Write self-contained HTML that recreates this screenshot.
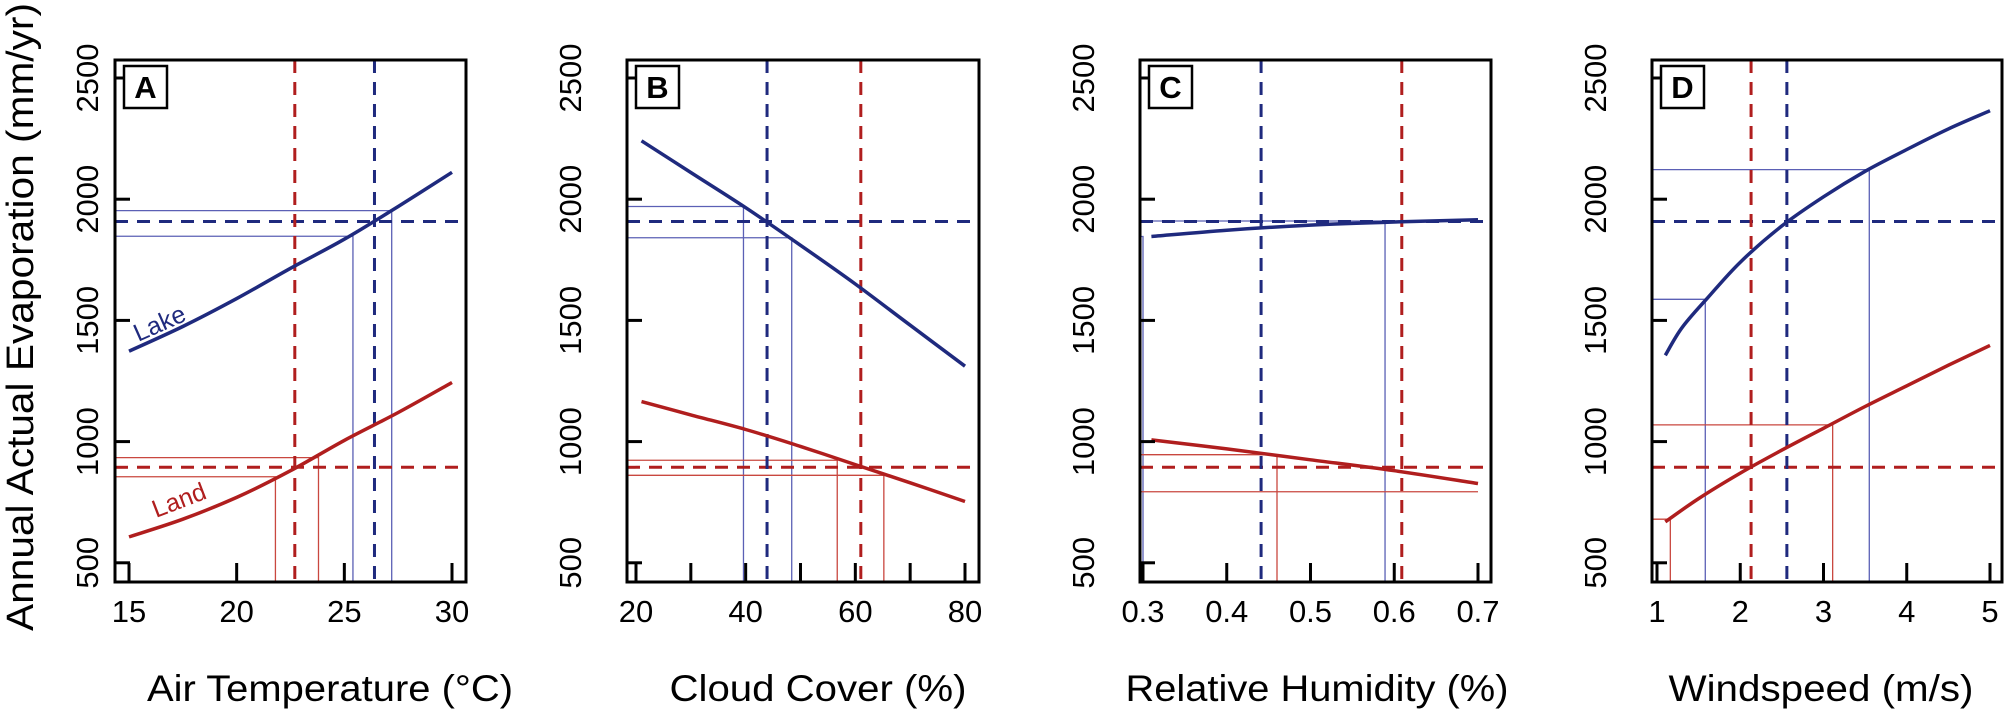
<!DOCTYPE html>
<html><head><meta charset="utf-8"><style>
html,body{margin:0;padding:0;background:#fff;}
svg{display:block;font-family:"Liberation Sans",Arial,sans-serif;}
</style></head><body>
<svg id="chart" width="2008" height="715" viewBox="0 0 2008 715" xmlns="http://www.w3.org/2000/svg">
<text x="0" y="0" transform="translate(33,317) rotate(-90)" text-anchor="middle" font-size="38" textLength="628" lengthAdjust="spacingAndGlyphs" fill="#000">Annual Actual Evaporation (mm/yr)</text>
</svg>
<script>
// ---- data ----
const panelLetters = ['A','B','C','D'];
const xTitles = ['Air Temperature (°C)','Cloud Cover (%)','Relative Humidity (%)','Windspeed (m/s)'];
const yTicks = [500,1000,1500,2000,2500];
const xTicksA = [15,20,25,30];
const xTicksB = [20,30,40,50,60,70,80];
const xTickLabelsB = ['20','','40','','60','','80'];
const xTicksC = [0.3,0.4,0.5,0.6,0.7];
const xTicksD = [1,2,3,4,5];
const lakeXA = [15,17.5,20,22.5,25,27.5,30];
const lakeYA = [1373,1475,1590,1715,1835,1970,2111];
const landXA = [15,17.5,20,22.5,25,27.5,30];
const landYA = [607,680,770,880,1005,1120,1244];
const lakeXB = [21,30,40,50,60,70,80];
const lakeYB = [2241,2110,1965,1810,1650,1480,1311];
const landXB = [21,30,40,50,60,70,80];
const landYB = [1165,1110,1050,980,905,830,753];
const lakeXC = [0.31,0.4,0.5,0.6,0.7];
const lakeYC = [1846,1872,1893,1906,1915];
const landXC = [0.31,0.4,0.5,0.6,0.7];
const landYC = [1007,970,925,880,827];
const lakeXD = [1.1,1.3,1.6,2,2.5,3,3.5,4,4.5,5];
const lakeYD = [1356,1470,1590,1740,1890,2010,2115,2205,2290,2365];
const landXD = [1.1,1.5,2,2.5,3,3.5,4,4.5,5];
const landYD = [669,765,870,965,1055,1145,1230,1315,1397];
// reference means (dashed)
const lakeMeanX = [26.4,43.9,0.441,2.56];
const landMeanX = [22.7,61,0.609,2.13];
const lakeMeanY = 1908;
const landMeanY = 894;
// guide points
const lakeGuideX = [[25.4,27.2],[39.6,48.4],[0.3,0.589],[1.58,3.55]];
const lakeGuideY = [[1847,1953],[1970,1841],[1846,1910],[1587,2122]];
const landGuideX = [[21.8,23.8],[56.7,65.2],[0.46,0.7],[1.16,3.11]];
const landGuideY = [[855,934],[923,861],[946,793],[680,1069]];

// ---- layout ----
const svg = document.getElementById('chart');
const NS = 'http://www.w3.org/2000/svg';
const BLUE = '#1f2a7e', RED = '#b01e1e', BLUE_L = '#5b60b5', RED_L = '#c9473f';
const boxTop = 60, boxBot = 582;
const panels = [
  {left:115,right:466,x0:15,px0:129,x1:30,px1:452,ticks:xTicksA,labels:xTicksA.map(String),ylab:87,title:330,tw:366,lx:[lakeXA,lakeYA],ld:[landXA,landYA]},
  {left:627,right:979,x0:20,px0:636,x1:80,px1:965,ticks:xTicksB,labels:xTickLabelsB,ylab:570,title:818,tw:297,lx:[lakeXB,lakeYB],ld:[landXB,landYB]},
  {left:1140,right:1491,x0:0.3,px0:1143,x1:0.7,px1:1478,ticks:xTicksC,labels:xTicksC.map(v=>v.toFixed(1)),ylab:1083,title:1317,tw:383,lx:[lakeXC,lakeYC],ld:[landXC,landYC]},
  {left:1652,right:2002,x0:1,px0:1657,x1:5,px1:1990,ticks:xTicksD,labels:xTicksD.map(String),ylab:1595,title:1821,tw:305,lx:[lakeXD,lakeYD],ld:[landXD,landYD]}
];
function yS(v){return 78+(2500-v)*0.2424;}
function mk(tag,attrs,parent){const e=document.createElementNS(NS,tag);for(const k in attrs)e.setAttribute(k,attrs[k]);(parent||svg).appendChild(e);return e;}
function smooth(P){
  let d='M'+P[0][0].toFixed(1)+','+P[0][1].toFixed(1);
  for(let i=0;i<P.length-1;i++){
    const p0=P[Math.max(i-1,0)],p1=P[i],p2=P[i+1],p3=P[Math.min(i+2,P.length-1)];
    const c1=[p1[0]+(p2[0]-p0[0])/6,p1[1]+(p2[1]-p0[1])/6];
    const c2=[p2[0]-(p3[0]-p1[0])/6,p2[1]-(p3[1]-p1[1])/6];
    d+=' C'+c1.map(v=>v.toFixed(1)).join(',')+' '+c2.map(v=>v.toFixed(1)).join(',')+' '+p2.map(v=>v.toFixed(1)).join(',');
  }
  return d;
}

panels.forEach((p,i)=>{
  const xS = v => p.px0+(v-p.x0)*(p.px1-p.px0)/(p.x1-p.x0);
  const g = mk('g',{});
  
  
  [[lakeGuideX[i],lakeGuideY[i],BLUE_L,'lake'],[landGuideX[i],landGuideY[i],RED_L,'land']].forEach(([gx,gy,c,n])=>{
    for(let k=0;k<2;k++){
      const X=xS(gx[k]),Y=yS(gy[k]);
      const noVert = (i===2 && n==='land' && k===1);
      const pts = noVert ? `${p.left},${Y} ${X},${Y}` : `${p.left},${Y} ${X},${Y} ${X},${boxBot}`;
      const l=mk('polyline',{points:pts,fill:'none',stroke:c,'stroke-width':1.3},g);
      
      
    }
  });
  const dash='13 9';
  const dl=[
    [p.left,yS(lakeMeanY),p.right,yS(lakeMeanY),BLUE,'lake-mean-horizontal'],
    [p.left,yS(landMeanY),p.right,yS(landMeanY),RED,'land-mean-horizontal'],
    [xS(lakeMeanX[i]),boxTop,xS(lakeMeanX[i]),boxBot,BLUE,'lake-mean-vertical'],
    [xS(landMeanX[i]),boxTop,xS(landMeanX[i]),boxBot,RED,'land-mean-vertical']];
  dl.forEach(d=>{
    const l=mk('line',{x1:d[0],y1:d[1],x2:d[2],y2:d[3],stroke:d[4],'stroke-width':3,'stroke-dasharray':dash},g);
    
    
  });
  [[p.lx,BLUE,'lake-curve'],[p.ld,RED,'land-curve']].forEach(([s,c,n])=>{
    const P=s[0].map((x,k)=>[xS(x),yS(s[1][k])]);
    const l=mk('path',{d:smooth(P),fill:'none',stroke:c,'stroke-width':3.5,'stroke-linejoin':'round'},g);
    
    
  });
  const b=mk('rect',{x:p.left,y:boxTop,width:p.right-p.left,height:boxBot-boxTop,fill:'none',stroke:'#000','stroke-width':3},g);
  
  
  yTicks.forEach(v=>{
    const t=mk('line',{x1:p.left,y1:yS(v),x2:p.left+15,y2:yS(v),stroke:'#000','stroke-width':3},g);
    
    
    const tx=mk('text',{x:0,y:0,transform:`translate(${p.ylab+11},${yS(v)}) rotate(-90)`,'text-anchor':'middle','font-size':31,fill:'#000'},g);
    tx.textContent=String(v);
    
    
  });
  p.ticks.forEach((v,k)=>{
    const X=xS(v);
    const t=mk('line',{x1:X,y1:boxBot,x2:X,y2:boxBot-19,stroke:'#000','stroke-width':3},g);
    
    
    if(p.labels[k]){
      const tx=mk('text',{x:X,y:622,'text-anchor':'middle','font-size':31,fill:'#000'},g);
      tx.textContent=p.labels[k];
      
      
    }
  });
  const lb=mk('rect',{x:p.left+9,y:66,width:43,height:42,fill:'#fff',stroke:'#000','stroke-width':2.5},g);
  
  
  const lt=mk('text',{x:p.left+30.5,y:98,'text-anchor':'middle','font-size':31,'font-weight':'bold',fill:'#000'},g);
  lt.textContent=panelLetters[i];
  
  
  const xt=mk('text',{x:p.title,y:701,'text-anchor':'middle','font-size':37,textLength:p.tw,lengthAdjust:'spacingAndGlyphs',fill:'#000'},g);
  xt.textContent=xTitles[i];
  
  
});
const lk=mk('text',{x:0,y:0,transform:'translate(163,331) rotate(-24)','text-anchor':'middle','font-size':25,fill:BLUE});
lk.textContent='Lake';


const ld=mk('text',{x:0,y:0,transform:'translate(182,508) rotate(-21)','text-anchor':'middle','font-size':25,fill:RED});
ld.textContent='Land';


</script>
</body></html>
